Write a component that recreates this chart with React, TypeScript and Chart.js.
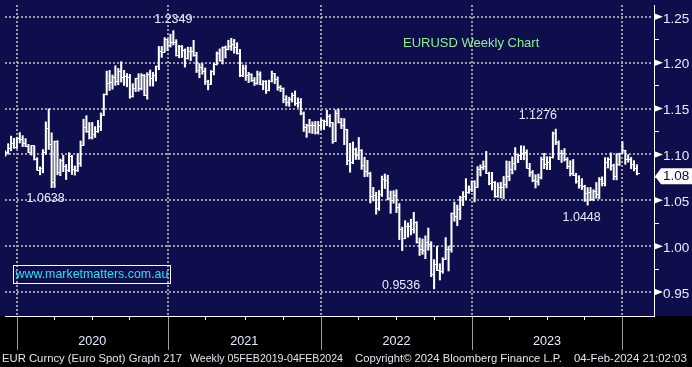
import React, { useEffect, useRef } from 'react';
import { Chart, registerables } from 'chart.js';

Chart.register(...registerables);

// Weekly EURUSD bars, first bar = week ending 29-Nov-2019, last = week ending 02-Feb-2024
const firstWeekEnding = '2019-11-29';

const opens = [
  1.1020, 1.1017, 1.1060, 1.1120, 1.1079, 1.1177, 1.1160, 1.1121, 1.1090, 1.1025,
  1.1093, 1.0945, 1.0830, 1.0847, 1.1026, 1.1285, 1.1105, 1.0694, 1.1141, 1.0805,
  1.0936, 1.0874, 1.0822, 1.0982, 1.0840, 1.0820, 1.0900, 1.1100, 1.1290, 1.1255,
  1.1180, 1.1220, 1.1245, 1.1300, 1.1428, 1.1655, 1.1778, 1.1787, 1.1841, 1.1796,
  1.1904, 1.1838, 1.1845, 1.1838, 1.1631, 1.1715, 1.1826, 1.1718, 1.1860, 1.1646,
  1.1875, 1.1833, 1.1858, 1.1962, 1.2121, 1.2115, 1.2255, 1.2188, 1.2215, 1.2219,
  1.2079, 1.2172, 1.2136, 1.2046, 1.2118, 1.2120, 1.2075, 1.1915, 1.1951, 1.1905,
  1.1795, 1.1762, 1.1900, 1.1985, 1.2095, 1.2020, 1.2165, 1.2142, 1.2180, 1.2195,
  1.2166, 1.2105, 1.1864, 1.1935, 1.1865, 1.1875, 1.1810, 1.1770, 1.1870, 1.1762,
  1.1795, 1.1697, 1.1795, 1.1880, 1.1815, 1.1725, 1.1720, 1.1595, 1.1570, 1.1600,
  1.1645, 1.1560, 1.1568, 1.1445, 1.1290, 1.1320, 1.1315, 1.1315, 1.1240, 1.1320,
  1.1370, 1.1360, 1.1410, 1.1345, 1.1145, 1.1450, 1.1350, 1.1320, 1.1270, 1.0930,
  1.0910, 1.1050, 1.0985, 1.1045, 1.0875, 1.0810, 1.0795, 1.0545, 1.0550, 1.0410,
  1.0560, 1.0730, 1.0720, 1.0520, 1.0495, 1.0555, 1.0425, 1.0185, 1.0085, 1.0210,
  1.0220, 1.0180, 1.0260, 1.0040, 0.9965, 0.9955, 1.0040, 1.0015, 0.9690, 0.9800,
  0.9740, 0.9720, 0.9860, 0.9965, 0.9960, 1.0355, 1.0325, 1.0400, 1.0535, 1.0540,
  1.0585, 1.0620, 1.0705, 1.0645, 1.0835, 1.0855, 1.0870, 1.0795, 1.0680, 1.0695,
  1.0545, 1.0635, 1.0640, 1.0670, 1.0760, 1.0840, 1.0900, 1.0995, 1.0990, 1.1015,
  1.1020, 1.0850, 1.0805, 1.0720, 1.0710, 1.0750, 1.0940, 1.0895, 1.0910, 1.0970,
  1.1230, 1.1125, 1.1015, 1.1005, 1.0950, 1.0870, 1.0795, 1.0775, 1.0700, 1.0660,
  1.0655, 1.0575, 1.0590, 1.0510, 1.0595, 1.0565, 1.0730, 1.0685, 1.0910, 1.0940,
  1.0885, 1.0760, 1.0895, 1.1010, 1.1040, 1.0940, 1.0950, 1.0895, 1.0850,
];

const highs = [
  1.1040, 1.1117, 1.1200, 1.1176, 1.1188, 1.1239, 1.1205, 1.1173, 1.1110, 1.1096,
  1.1095, 1.0965, 1.0864, 1.1053, 1.1355, 1.1496, 1.1236, 1.1147, 1.1150, 1.0950,
  1.0990, 1.0890, 1.1019, 1.0990, 1.0875, 1.1009, 1.1147, 1.1384, 1.1422, 1.1348,
  1.1349, 1.1303, 1.1371, 1.1452, 1.1660, 1.1908, 1.1916, 1.1866, 1.1966, 1.1937,
  1.2011, 1.1917, 1.1882, 1.1872, 1.1771, 1.1831, 1.1880, 1.1881, 1.1871, 1.1891,
  1.1920, 1.1894, 1.1964, 1.2177, 1.2177, 1.2273, 1.2259, 1.2310, 1.2349, 1.2251,
  1.2189, 1.2187, 1.2150, 1.2169, 1.2169, 1.2243, 1.2114, 1.1990, 1.1990, 1.1942,
  1.1809, 1.1914, 1.1994, 1.2117, 1.2150, 1.2172, 1.2182, 1.2245, 1.2266, 1.2254,
  1.2218, 1.2145, 1.1975, 1.1975, 1.1895, 1.1880, 1.1838, 1.1909, 1.1900, 1.1805,
  1.1805, 1.1810, 1.1909, 1.1884, 1.1846, 1.1750, 1.1725, 1.1640, 1.1624, 1.1669,
  1.1692, 1.1617, 1.1609, 1.1464, 1.1330, 1.1383, 1.1355, 1.1360, 1.1360, 1.1386,
  1.1375, 1.1482, 1.1435, 1.1350, 1.1484, 1.1495, 1.1395, 1.1391, 1.1275, 1.1121,
  1.1137, 1.1070, 1.1185, 1.1054, 1.0970, 1.0936, 1.0807, 1.0642, 1.0589, 1.0607,
  1.0765, 1.0787, 1.0774, 1.0601, 1.0605, 1.0615, 1.0465, 1.0208, 1.0278, 1.0254,
  1.0294, 1.0369, 1.0268, 1.0090, 1.0079, 1.0113, 1.0198, 1.0050, 0.9854, 0.9999,
  0.9809, 0.9875, 1.0094, 1.0000, 1.0363, 1.0481, 1.0449, 1.0545, 1.0595, 1.0736,
  1.0658, 1.0713, 1.0713, 1.0868, 1.0887, 1.0929, 1.1033, 1.0807, 1.0805, 1.0705,
  1.0691, 1.0697, 1.0760, 1.0930, 1.0925, 1.0973, 1.1075, 1.1000, 1.1095, 1.1092,
  1.1050, 1.0903, 1.0825, 1.0779, 1.0787, 1.0971, 1.1012, 1.0976, 1.0975, 1.1245,
  1.1276, 1.1149, 1.1046, 1.1064, 1.0966, 1.0932, 1.0945, 1.0795, 1.0769, 1.0737,
  1.0665, 1.0640, 1.0640, 1.0615, 1.0695, 1.0748, 1.0756, 1.0966, 1.0965, 1.1017,
  1.0895, 1.1009, 1.1014, 1.1140, 1.1046, 1.0998, 1.0968, 1.0932, 1.0888,
];

const lows = [
  1.0981, 1.1003, 1.1040, 1.1066, 1.1065, 1.1125, 1.1085, 1.1086, 1.1019, 1.0993,
  1.0940, 1.0827, 1.0778, 1.0800, 1.1000, 1.1055, 1.0638, 1.0640, 1.0778, 1.0768,
  1.0812, 1.0727, 1.0812, 1.0782, 1.0775, 1.0815, 1.0870, 1.1098, 1.1240, 1.1168,
  1.1168, 1.1185, 1.1240, 1.1260, 1.1423, 1.1648, 1.1696, 1.1711, 1.1753, 1.1760,
  1.1789, 1.1752, 1.1737, 1.1612, 1.1625, 1.1686, 1.1689, 1.1703, 1.1640, 1.1603,
  1.1746, 1.1745, 1.1800, 1.1923, 1.2058, 1.2115, 1.2130, 1.2170, 1.2192, 1.2072,
  1.2054, 1.2057, 1.1952, 1.2040, 1.2023, 1.2070, 1.1893, 1.1836, 1.1874, 1.1762,
  1.1704, 1.1762, 1.1867, 1.1975, 1.2016, 1.1986, 1.2052, 1.2140, 1.2134, 1.2104,
  1.2094, 1.1847, 1.1848, 1.1807, 1.1782, 1.1795, 1.1752, 1.1763, 1.1759, 1.1705,
  1.1664, 1.1692, 1.1790, 1.1772, 1.1700, 1.1684, 1.1563, 1.1529, 1.1524, 1.1571,
  1.1535, 1.1513, 1.1432, 1.1250, 1.1186, 1.1235, 1.1228, 1.1222, 1.1221, 1.1273,
  1.1272, 1.1313, 1.1300, 1.1121, 1.1140, 1.1342, 1.1281, 1.1106, 1.0887, 1.0806,
  1.0900, 1.0945, 1.0945, 1.0837, 1.0757, 1.0760, 1.0471, 1.0493, 1.0349, 1.0390,
  1.0542, 1.0628, 1.0505, 1.0359, 1.0469, 1.0366, 1.0072, 0.9952, 1.0080, 1.0099,
  1.0123, 1.0142, 1.0034, 0.9899, 0.9911, 0.9864, 0.9956, 0.9668, 0.9536, 0.9735,
  0.9632, 0.9705, 0.9853, 0.9730, 0.9935, 1.0272, 1.0223, 1.0290, 1.0443, 1.0507,
  1.0575, 1.0595, 1.0483, 1.0643, 1.0766, 1.0833, 1.0791, 1.0669, 1.0613, 1.0533,
  1.0532, 1.0525, 1.0516, 1.0635, 1.0713, 1.0788, 1.0831, 1.0910, 1.0943, 1.0942,
  1.0850, 1.0760, 1.0702, 1.0635, 1.0665, 1.0732, 1.0845, 1.0835, 1.0834, 1.0960,
  1.1107, 1.0943, 1.0912, 1.0928, 1.0845, 1.0766, 1.0772, 1.0686, 1.0632, 1.0617,
  1.0488, 1.0448, 1.0496, 1.0495, 1.0522, 1.0516, 1.0656, 1.0656, 1.0852, 1.0828,
  1.0724, 1.0723, 1.0880, 1.1010, 1.0892, 1.0915, 1.0844, 1.0821, 1.0777,
];

const closes = [
  1.1017, 1.1060, 1.1120, 1.1079, 1.1177, 1.1160, 1.1121, 1.1090, 1.1025, 1.1093,
  1.0945, 1.0830, 1.0847, 1.1026, 1.1285, 1.1105, 1.0694, 1.1141, 1.0805, 1.0936,
  1.0874, 1.0822, 1.0982, 1.0840, 1.0820, 1.0900, 1.1100, 1.1290, 1.1255, 1.1180,
  1.1220, 1.1245, 1.1300, 1.1428, 1.1655, 1.1778, 1.1787, 1.1841, 1.1796, 1.1904,
  1.1838, 1.1845, 1.1838, 1.1631, 1.1715, 1.1826, 1.1718, 1.1860, 1.1646, 1.1875,
  1.1833, 1.1858, 1.1962, 1.2121, 1.2115, 1.2255, 1.2188, 1.2215, 1.2219, 1.2079,
  1.2172, 1.2136, 1.2046, 1.2118, 1.2120, 1.2075, 1.1915, 1.1951, 1.1905, 1.1795,
  1.1762, 1.1900, 1.1985, 1.2095, 1.2020, 1.2165, 1.2142, 1.2180, 1.2195, 1.2166,
  1.2105, 1.1864, 1.1935, 1.1865, 1.1875, 1.1810, 1.1770, 1.1870, 1.1762, 1.1795,
  1.1697, 1.1795, 1.1880, 1.1815, 1.1725, 1.1720, 1.1595, 1.1570, 1.1600, 1.1645,
  1.1560, 1.1568, 1.1445, 1.1290, 1.1320, 1.1315, 1.1315, 1.1240, 1.1320, 1.1370,
  1.1360, 1.1410, 1.1345, 1.1145, 1.1450, 1.1350, 1.1320, 1.1270, 1.0930, 1.0910,
  1.1050, 1.0985, 1.1045, 1.0875, 1.0810, 1.0795, 1.0545, 1.0550, 1.0410, 1.0560,
  1.0730, 1.0720, 1.0520, 1.0495, 1.0555, 1.0425, 1.0185, 1.0085, 1.0210, 1.0220,
  1.0180, 1.0260, 1.0040, 0.9965, 0.9955, 1.0040, 1.0015, 0.9690, 0.9800, 0.9740,
  0.9720, 0.9860, 0.9965, 0.9960, 1.0355, 1.0325, 1.0400, 1.0535, 1.0540, 1.0585,
  1.0620, 1.0705, 1.0645, 1.0835, 1.0855, 1.0870, 1.0795, 1.0680, 1.0695, 1.0545,
  1.0635, 1.0640, 1.0670, 1.0760, 1.0840, 1.0900, 1.0995, 1.0990, 1.1015, 1.1020,
  1.0850, 1.0805, 1.0720, 1.0710, 1.0750, 1.0940, 1.0895, 1.0910, 1.0970, 1.1230,
  1.1125, 1.1015, 1.1005, 1.0950, 1.0870, 1.0795, 1.0775, 1.0700, 1.0660, 1.0655,
  1.0575, 1.0590, 1.0510, 1.0595, 1.0565, 1.0730, 1.0685, 1.0910, 1.0940, 1.0885,
  1.0760, 1.0895, 1.1010, 1.1040, 1.0940, 1.0950, 1.0895, 1.0850, 1.0790,
];

// x axis: year boundaries (bar index) and year labels
const yearBoundaryIndex = [4, 56, 109, 161, 213];
const yearLabels = ['2020', '2021', '2022', '2023'];

// y axis ticks
const yMajorTicks = [0.95, 1.0, 1.05, 1.1, 1.15, 1.2, 1.25];
const yTickLabels = ['0.95', '1.00', '1.05', '1.10', '1.15', '1.20', '1.25'];
const yMinorTicks = [0.975, 1.025, 1.075, 1.125, 1.175, 1.225];

// annotated extremes: bar index, high or low
const extremeIndex = [58, 16, 148, 190, 201];
const extremeKind = ['high', 'low', 'low', 'high', 'low'];

const titleText = 'EURUSD Weekly Chart';
const siteText = 'www.marketmatters.com.au';
const footerTexts = [
  'EUR Curncy (Euro Spot) Graph 217',
  'Weekly 05FEB2019-04FEB2024',
  'Copyright\u00A9 2024 Bloomberg Finance L.P.',
  '04-Feb-2024 21:02:03',
];

// ---- layout / style (not data) ----
const X_MIN = -0.1;
const X_MAX = 223.9;
const Y_MIN = 0.92394;
const Y_MAX = 1.26287;
const FONT = '"Liberation Sans", Arial, sans-serif';
const NAVY = '#0f0e4c';
const GRID = '#9a9aa8';
const LABEL = '#e6ecff';
const TRANSPARENT = 'rgba(0,0,0,0)';
const annotationOffsets = [[0, -11], [-6, 10.5], [-33, -3], [-18, -13.5], [-6, 12.7]];
const footerX = [2, 190, 355, 574];
const footerW = [180, 153, 207, 116];

const near = (a: number, b: number) => Math.abs(a - b) < 1e-6;
const isMajorY = (v: number) => yMajorTicks.some((t) => near(t, v));
const isYearX = (v: number) => yearBoundaryIndex.some((t) => near(t, v));

function xTickValues(): number[] {
  const out: number[] = [];
  for (let k = 0; k < yearBoundaryIndex.length; k++) {
    const b = yearBoundaryIndex[k];
    out.push(b);
    const nb = k + 1 < yearBoundaryIndex.length ? yearBoundaryIndex[k + 1] : b + 52;
    for (let q = 1; q < 4; q++) {
      const v = b + Math.round(((nb - b) * q) / 4);
      if (v <= X_MAX) out.push(v);
    }
  }
  return out;
}

export default function App() {
  const ref = useRef<HTMLCanvasElement>(null);

  useEffect(() => {
    document.body.style.margin = '0';
    const canvas = ref.current as HTMLCanvasElement;

    const mkTick = (left: boolean) => {
      const c = document.createElement('canvas');
      c.width = 6;
      c.height = 1;
      const g = c.getContext('2d') as CanvasRenderingContext2D;
      g.fillStyle = '#ffffff';
      g.fillRect(left ? 0 : 3, 0, 3, 1);
      return c;
    };
    const openImg = mkTick(true);
    const closeImg = mkTick(false);

    const decor = {
      id: 'decor',
      beforeDraw(chart: any) {
        const { ctx, chartArea: a } = chart;
        ctx.save();
        ctx.fillStyle = '#000000';
        ctx.fillRect(0, 0, chart.width, chart.height);
        ctx.fillStyle = NAVY;
        ctx.fillRect(0, 0, chart.width, a.bottom);
        ctx.restore();
      },
      beforeDatasetsDraw(chart: any) {
        const { ctx, chartArea: a, scales } = chart;
        const x = scales.x;
        const y = scales.y;
        ctx.save();
        ctx.strokeStyle = GRID;
        ctx.lineWidth = 2;
        ctx.setLineDash([2, 2]);
        yMajorTicks.forEach((v) => {
          const py = Math.round(y.getPixelForValue(v));
          ctx.beginPath();
          ctx.moveTo(a.left, py);
          ctx.lineTo(a.right - 1, py);
          ctx.stroke();
        });
        yearBoundaryIndex.forEach((v) => {
          const px = Math.round(x.getPixelForValue(v));
          ctx.beginPath();
          ctx.moveTo(px, a.top);
          ctx.lineTo(px, a.bottom - 1);
          ctx.stroke();
        });
        ctx.restore();
      },
      afterDraw(chart: any) {
        const { ctx, chartArea: a, scales } = chart;
        const x = scales.x;
        const y = scales.y;
        ctx.save();

        // long grey ticks under the axis at year boundaries
        ctx.strokeStyle = '#9c9c9c';
        ctx.lineWidth = 1;
        yearBoundaryIndex.forEach((v) => {
          const px = Math.round(x.getPixelForValue(v)) + 0.5;
          ctx.beginPath();
          ctx.moveTo(px, a.bottom + 1);
          ctx.lineTo(px, a.bottom + 34);
          ctx.stroke();
        });

        // year labels
        ctx.fillStyle = LABEL;
        ctx.font = `12.6px ${FONT}`;
        ctx.textAlign = 'center';
        ctx.textBaseline = 'middle';
        yearLabels.forEach((t, k) => {
          const c = (x.getPixelForValue(yearBoundaryIndex[k]) + x.getPixelForValue(yearBoundaryIndex[k + 1])) / 2;
          ctx.fillText(t, c, a.bottom + 26);
        });

        // footer
        ctx.font = `11.4px ${FONT}`;
        ctx.textAlign = 'left';
        ctx.fillStyle = '#e2e4ee';
        footerTexts.forEach((t, k) => ctx.fillText(t, footerX[k], a.bottom + 43, footerW[k]));

        // arrow heads on major y ticks
        ctx.fillStyle = '#ffffff';
        yMajorTicks.forEach((v) => {
          const py = y.getPixelForValue(v);
          ctx.beginPath();
          ctx.moveTo(a.right, py - 3.5);
          ctx.lineTo(a.right + 9, py);
          ctx.lineTo(a.right, py + 3.5);
          ctx.closePath();
          ctx.fill();
        });

        // extreme annotations
        ctx.font = `12.5px ${FONT}`;
        ctx.textAlign = 'center';
        ctx.fillStyle = LABEL;
        extremeIndex.forEach((i, k) => {
          const v = extremeKind[k] === 'high' ? highs[i] : lows[i];
          const px = x.getPixelForValue(i) + annotationOffsets[k][0];
          const py = y.getPixelForValue(v) + annotationOffsets[k][1];
          ctx.fillText(v.toFixed(4), px, py);
        });

        // title
        ctx.font = `13px ${FONT}`;
        ctx.textAlign = 'left';
        ctx.fillStyle = '#8cf08c';
        ctx.fillText(titleText, 403, 43);

        // website box
        ctx.strokeStyle = '#ffffff';
        ctx.lineWidth = 1;
        ctx.strokeRect(13.5, 265.5, 157, 18);
        ctx.font = `12.4px ${FONT}`;
        ctx.fillStyle = '#22e2f2';
        ctx.fillText(siteText, 15.5, 275, 153);

        // last price marker
        const last = closes[closes.length - 1];
        const cy = y.getPixelForValue(last) + 2.5;
        ctx.fillStyle = '#ffffff';
        ctx.beginPath();
        ctx.moveTo(a.right + 1, cy);
        ctx.lineTo(a.right + 7, cy - 8);
        ctx.lineTo(chart.width, cy - 8);
        ctx.lineTo(chart.width, cy + 8);
        ctx.lineTo(a.right + 7, cy + 8);
        ctx.closePath();
        ctx.fill();
        ctx.fillStyle = '#0b0b3c';
        ctx.font = `13.5px ${FONT}`;
        ctx.fillText(last.toFixed(2), a.right + 9, cy);

        ctx.restore();
      },
    };

    const chart = new Chart(canvas, {
      type: 'bar',
      data: {
        datasets: [
          {
            type: 'bar',
            label: 'range',
            data: lows.map((l, i) => ({ x: i, y: [l, highs[i]] })),
            backgroundColor: '#ffffff',
            borderWidth: 0,
            barThickness: 1.4,
            grouped: false,
          } as any,
          {
            type: 'scatter',
            label: 'open',
            data: opens.map((o, i) => ({ x: i, y: o })),
            pointStyle: openImg,
            pointRadius: 3,
            showLine: false,
          } as any,
          {
            type: 'scatter',
            label: 'close',
            data: closes.map((c, i) => ({ x: i, y: c })),
            pointStyle: closeImg,
            pointRadius: 3,
            showLine: false,
          } as any,
        ],
      },
      options: {
        animation: false,
        responsive: false,
        devicePixelRatio: 1,
        events: [],
        layout: { padding: 0 },
        plugins: { legend: { display: false }, tooltip: { enabled: false } },
        scales: {
          x: {
            type: 'linear',
            min: X_MIN,
            max: X_MAX,
            offset: false,
            afterBuildTicks: (s: any) => {
              s.ticks = xTickValues().map((v) => ({ value: v }));
            },
            afterFit: (s: any) => {
              s.height = 51;
              s.paddingLeft = 0;
              s.paddingRight = 0;
            },
            ticks: { display: false },
            grid: {
              offset: false,
              drawOnChartArea: false,
              tickLength: 4,
              tickWidth: 1,
              tickColor: (c: any) => (c.tick && isYearX(c.tick.value) ? TRANSPARENT : '#ffffff'),
            },
            border: { display: true, color: '#ffffff', width: 1 },
          },
          y: {
            type: 'linear',
            position: 'right',
            min: Y_MIN,
            max: Y_MAX,
            afterBuildTicks: (s: any) => {
              s.ticks = [...yMajorTicks, ...yMinorTicks].sort((a, b) => a - b).map((v) => ({ value: v }));
            },
            afterFit: (s: any) => {
              s.width = 38;
              s.paddingTop = 0;
              s.paddingBottom = 0;
            },
            ticks: {
              autoSkip: false,
              color: LABEL,
              font: { family: FONT, size: 13.5 },
              padding: 4,
              labelOffset: 2,
              callback: (v: any) => {
                const k = yMajorTicks.findIndex((t) => near(t, Number(v)));
                return k >= 0 ? yTickLabels[k] : '';
              },
            },
            grid: {
              drawOnChartArea: false,
              tickLength: 5,
              tickWidth: 1,
              tickColor: (c: any) => (c.tick && isMajorY(c.tick.value) ? TRANSPARENT : '#ffffff'),
            },
            border: { display: true, color: '#ffffff', width: 1 },
          },
        },
      } as any,
      plugins: [decor],
    });

    return () => chart.destroy();
  }, []);

  return (
    <div style={{ width: 692, height: 367 }} data-first-week={firstWeekEnding}>
      <canvas ref={ref} width={692} height={367} style={{ display: 'block' }} />
    </div>
  );
}
